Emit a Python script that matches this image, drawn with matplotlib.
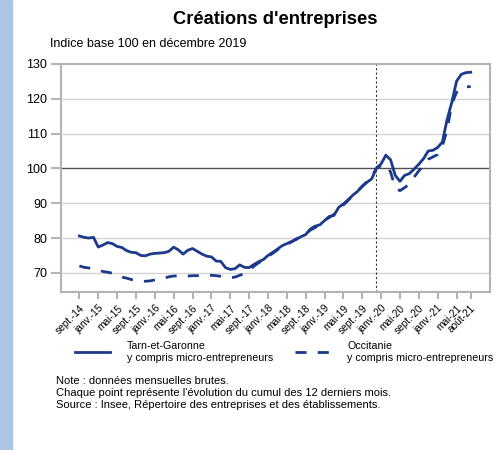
import numpy as np
import matplotlib.pyplot as plt
from matplotlib.patches import Rectangle

plt.rcParams['font.family'] = ['Liberation Sans', 'DejaVu Sans']

# mensuel, de sept. 2014 a aout 2021 (indice 100 = dec. 2019)
tarn = [80.6, 80.2, 80.0, 80.2, 77.4, 78.0, 78.7, 78.4, 77.6, 77.3,
        76.4, 75.9, 75.8, 75.0, 74.9, 75.4, 75.6, 75.7, 75.8, 76.2,
        77.4, 76.6, 75.4, 76.5, 77.0, 76.2, 75.4, 74.8, 74.6, 73.4,
        73.3, 71.5, 71.0, 71.2, 72.3, 71.6, 71.5, 72.4, 73.2, 73.8,
        75.0, 75.9, 76.8, 77.8, 78.4, 79.0, 79.6, 80.4, 81.0, 82.6,
        83.4, 83.8, 85.0, 86.2, 86.5, 88.8, 89.8, 91.0, 92.3, 93.4,
        94.8, 96.0, 97.0, 100.0, 101.3, 103.8, 102.5, 98.0, 96.3, 98.0,
        98.5, 99.8, 101.2, 102.8, 105.0, 105.2, 106.0, 107.6, 114.0, 119.0,
        125.0, 127.0, 127.5, 127.6]
occitanie = [72.0, 71.6, 71.4, 71.2, 70.9, 70.4, 70.2, 69.9, 69.2, 68.8,
             68.5, 68.1, 67.9, 67.6, 67.6, 67.7, 68.0, 68.3, 68.5, 68.9,
             69.1, 69.1, 69.1, 69.1, 69.2, 69.2, 69.3, 69.3, 69.3, 69.2,
             69.0, 68.7, 68.6, 68.8, 69.3, 69.8, 70.8, 71.9, 72.9, 73.6,
             74.7, 75.6, 76.6, 77.5, 78.2, 78.9, 79.8, 80.4, 81.2, 82.3,
             83.0, 83.9, 85.1, 85.9, 86.8, 88.3, 89.5, 90.8, 92.2, 93.5,
             94.9, 96.2, 97.6, 100.0, 100.8, 101.0, 99.0, 94.5, 93.6, 94.5,
             95.5, 97.5, 99.3, 100.8, 102.6, 103.3, 104.0, 106.5, 111.0, 118.5,
             121.8, 123.2, 123.4, 123.5]
tick_pos = [0, 4, 8, 12, 16, 20, 24, 28, 32, 36, 40, 44, 48, 52, 56, 60,
            64, 68, 72, 76, 80, 83]
tick_labels = ['sept.-14', 'janv.-15', 'mai-15', 'sept.-15', 'janv.-16',
               'mai-16', 'sept.-16', 'janv.-17', 'mai-17', 'sept.-17',
               'janv.-18', 'mai-18', 'sept.-18', 'janv.-19', 'mai-19',
               'sept.-19', 'janv.-20', 'mai-20', 'sept.-20', 'janv.-21',
               'mai-21', 'août-21']
base_month = 63

x = np.arange(len(tarn))
blue = '#1c3a8c'
grey = '#b4b4b4'

fig = plt.figure(figsize=(5, 4.5), dpi=100)
fig.patches.append(Rectangle((0, 0), 0.024, 1, transform=fig.transFigure,
                             color='#aec4e6', zorder=0))

ax = fig.add_axes([0.122, 0.351, 0.858, 0.507])

# grille
for v in [70, 80, 90, 110, 120]:
    ax.axhline(v, color='#d4d4d4', lw=1, zorder=1)
ax.axhline(100, color='#505050', lw=1, zorder=1)
ax.axvline(base_month, color='#333333', lw=0.8, ls=(0, (2, 2)), zorder=1)

l1, = ax.plot(x, tarn, color=blue, lw=2, zorder=3)
l2, = ax.plot(x, occitanie, color=blue, lw=2, ls=(0, (4, 4)), zorder=3)

ax.set_xlim(-3.9, 87.1)
ax.set_ylim(64.5, 130)
ax.set_yticks([70, 80, 90, 100, 110, 120, 130])
ax.set_xticks(tick_pos)
ax.set_xticklabels(tick_labels, rotation=45, ha='right', fontsize=7.3,
                   rotation_mode='anchor')
ax.tick_params(axis='x', length=5, width=1.5, color=grey, pad=3)
ax.tick_params(axis='y', length=7, width=1.5, color=grey, labelsize=9, pad=3)
for s in ax.spines.values():
    s.set_color(grey)
    s.set_linewidth(1.5)

fig.text(0.55, 0.956, "Créations d'entreprises", ha='center', va='center',
         fontsize=13.2, fontweight='bold')
fig.text(0.1, 0.903, "Indice base 100 en décembre 2019", ha='left',
         va='center', fontsize=9)

fig.legend([l1, l2],
           ['Tarn-et-Garonne\ny compris micro-entrepreneurs',
            'Occitanie\ny compris micro-entrepreneurs'],
           loc='center', bbox_to_anchor=(0.568, 0.218), ncol=2,
           frameon=False, fontsize=7.7, handlelength=3.3,
           handletextpad=1.6, columnspacing=2.0)

fig.text(0.112, 0.127, "Note : données mensuelles brutes.\n"
         "Chaque point représente l'évolution du cumul des 12 derniers mois.\n"
         "Source : Insee, Répertoire des entreprises et des établissements.",
         ha='left', va='center', fontsize=8, linespacing=1.22)

fig.savefig('out.png', dpi=100)
